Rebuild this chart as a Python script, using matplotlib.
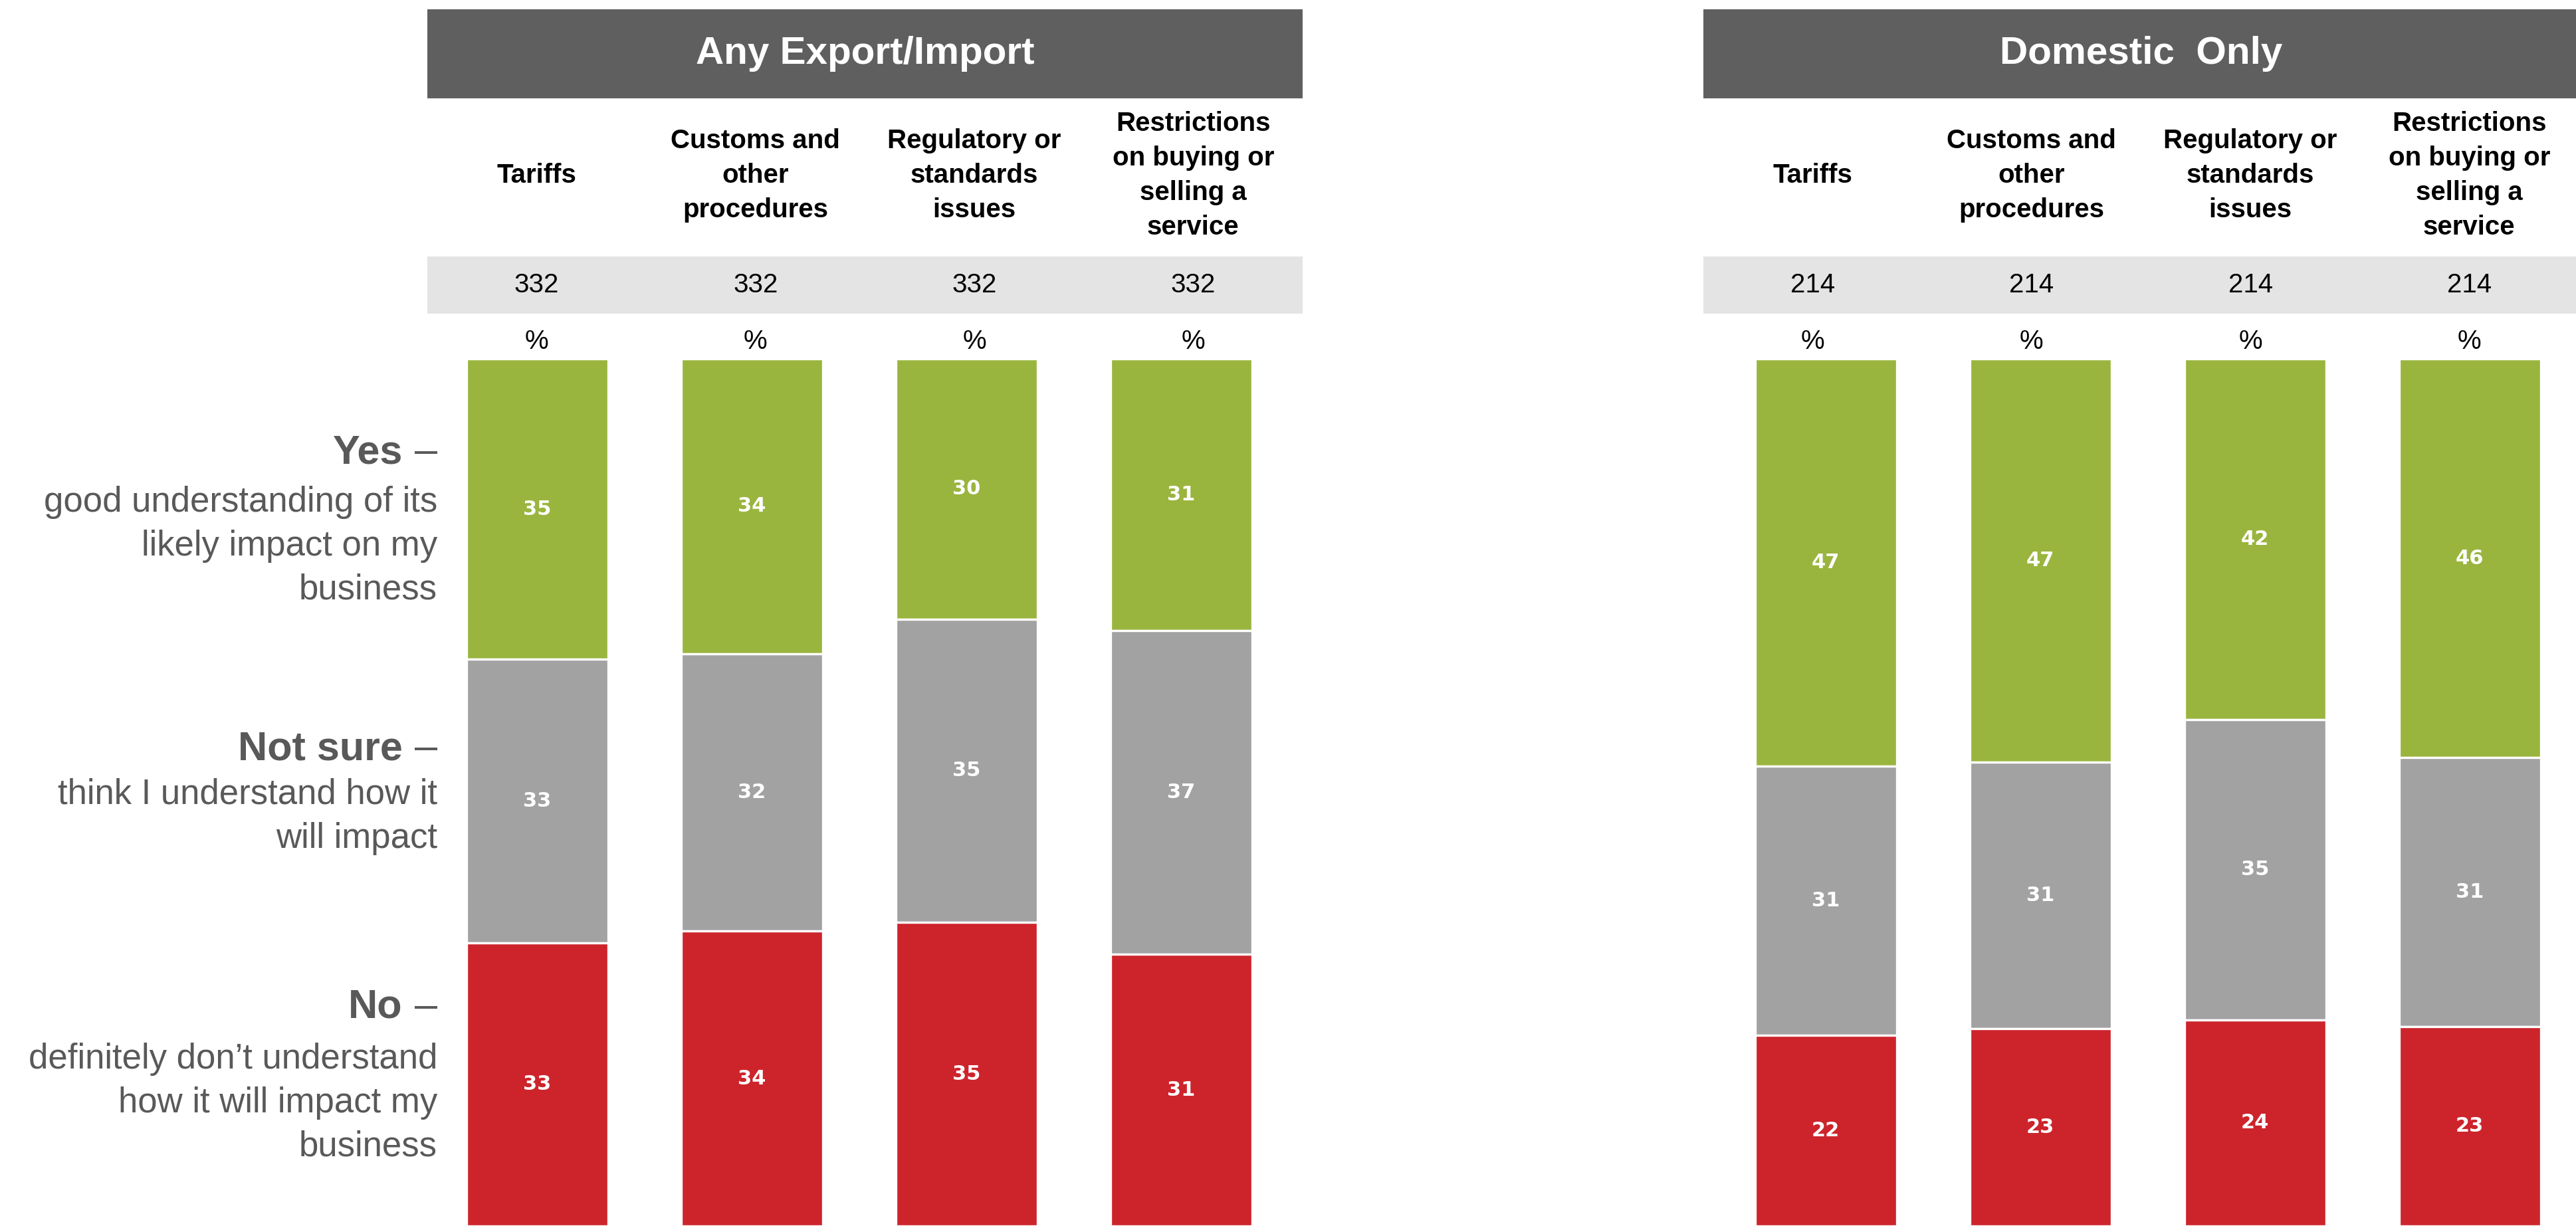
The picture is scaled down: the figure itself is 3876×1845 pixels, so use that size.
import numpy as np
import matplotlib

matplotlib.use('Agg')

import matplotlib.pyplot as plt
from matplotlib.patches import Rectangle

# ---- data ----
PANELS = ['Any Export/Import', 'Domestic  Only']
COLUMNS = [['Tariffs'],
           ['Customs and', 'other', 'procedures'],
           ['Regulatory or', 'standards', 'issues'],
           ['Restrictions', 'on buying or', 'selling a', 'service']]
BASES = [332, 214]

YES = [[35, 34, 30, 31], [47, 47, 42, 46]]
NOT_SURE = [[33, 32, 35, 37], [31, 31, 35, 31]]
NO = [[33, 34, 35, 31], [22, 23, 24, 23]]

ROW_HEADS = ['Yes', 'Not sure', 'No']
ROW_TEXT = [['good understanding of its', 'likely impact on my', 'business'],
            ['think I understand how it', 'will impact'],
            ['definitely don\u2019t understand', 'how it will impact my', 'business']]

# ---- layout (pixels of the 3876x1845 canvas) ----
W, H, DPI = 3876, 1845, 200
BOX_LEFT = [643, 2563]
BOX_W = 1317
BAR_FIRST = [808, 2747]
BAR_STEP, BAR_W = 323, 213
BAR_TOP = 540
LABEL_RIGHT = 658
HEAD_BASE = [697, 1143, 1532]
TEXT_BASE = [770, 1210, 1608]
LINE_STEP = 66

GREEN, GREY, RED = '#9AB53E', '#A2A2A2', '#CD242C'
BOX, BAND, TXT = '#5F5F5F', '#E4E4E4', '#595959'

plt.rcParams['font.family'] = ['Liberation Sans', 'DejaVu Sans']

fig = plt.figure(figsize=(W / DPI, H / DPI), dpi=DPI)
ov = fig.add_axes([0, 0, 1, 1])
ov.set_xlim(0, W)
ov.set_ylim(H, 0)
ov.axis('off')
renderer = fig.canvas.get_renderer()

# row descriptions on the left
for head, lines, yb, yt in zip(ROW_HEADS, ROW_TEXT, HEAD_BASE, TEXT_BASE):
    dash = ov.text(LABEL_RIGHT, yb, '\u2013', ha='right', va='baseline',
                   fontsize=22, color=TXT)
    dw = dash.get_window_extent(renderer).width
    ov.text(LABEL_RIGHT - dw - 18, yb, head, ha='right', va='baseline',
            fontsize=22, fontweight='bold', color=TXT)
    for k, line in enumerate(lines):
        ov.text(LABEL_RIGHT, yt + k * LINE_STEP, line, ha='right',
                va='baseline', fontsize=19, color=TXT)

for p, title in enumerate(PANELS):
    x0 = BOX_LEFT[p]
    col_w = BOX_W / 4
    ov.add_patch(Rectangle((x0, 14), BOX_W, 134, color=BOX, lw=0))
    ov.text(x0 + BOX_W / 2, 81, title, ha='center', va='center',
            fontsize=21, fontweight='bold', color='white')
    ov.add_patch(Rectangle((x0, 386), BOX_W, 86, color=BAND, lw=0))
    for c, lines in enumerate(COLUMNS):
        cx = x0 + col_w * (c + 0.5)
        first = 264 - (len(lines) - 1) / 2 * 52
        for k, line in enumerate(lines):
            ov.text(cx, first + k * 52, line, ha='center', va='center',
                    fontsize=14.5, fontweight='bold', color='black')
        ov.text(cx, 429, str(BASES[p]), ha='center', va='center',
                fontsize=14.5, color='black')
        ov.text(cx, 514, '%', ha='center', va='center',
                fontsize=14.5, color='black')

    # stacked bars, top-down, each scaled to fill the column
    left = BAR_FIRST[p] - BAR_STEP / 2
    ax = fig.add_axes([left / W, 0, 4 * BAR_STEP / W, (H - BAR_TOP) / H])
    ax.set_xlim(-0.5, 3.5)
    ax.set_ylim(100, 0)
    ax.axis('off')
    ax.patch.set_alpha(0)

    yes = np.array(YES[p], float)
    ns = np.array(NOT_SURE[p], float)
    no = np.array(NO[p], float)
    tot = yes + ns + no
    x = np.arange(4)
    bottom = np.zeros(4)
    for vals, color in [(yes, GREEN), (ns, GREY), (no, RED)]:
        h = vals / tot * 100
        ax.bar(x, h, bottom=bottom, width=BAR_W / BAR_STEP, color=color,
               edgecolor='white', linewidth=1.2)
        for i in range(4):
            ax.text(x[i], bottom[i] + h[i] / 2, f'{vals[i]:.0f}',
                    ha='center', va='center', color='white', fontsize=11,
                    fontweight='bold', family='DejaVu Sans')
        bottom = bottom + h

fig.savefig('out.png', dpi=DPI)
plt.close(fig)
